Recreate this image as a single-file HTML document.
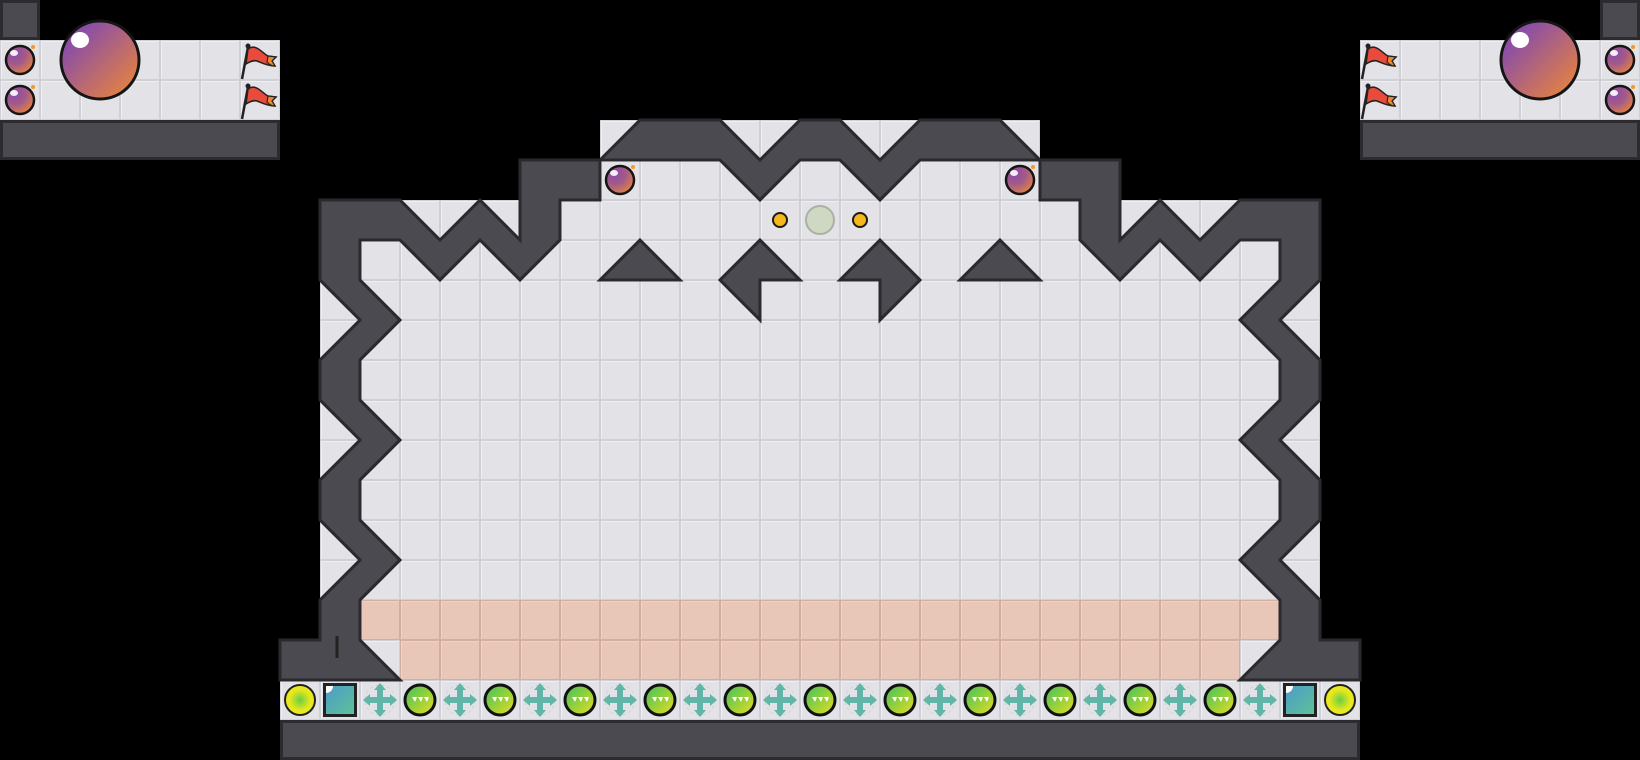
<!DOCTYPE html>
<html><head><meta charset="utf-8"><style>
html,body{margin:0;padding:0;background:#000;width:1640px;height:760px;overflow:hidden}
svg{display:block}
</style></head><body>
<svg width="1640" height="760" viewBox="0 0 1640 760" xmlns="http://www.w3.org/2000/svg">
<defs>
<pattern id="tile" width="40" height="40" patternUnits="userSpaceOnUse">
<rect width="40" height="40" fill="#cfcfd6"/>
<rect x="1" y="1" width="38" height="38" fill="#f0f0f3"/>
<rect x="2" y="2" width="37" height="37" fill="#e2e2e7"/>
</pattern>
<pattern id="ptile" width="40" height="40" patternUnits="userSpaceOnUse">
<rect width="40" height="40" fill="#d4ad9e"/>
<rect x="1" y="1" width="38" height="38" fill="#f1d3c6"/>
<rect x="2" y="2" width="37" height="37" fill="#e8c6b8"/>
</pattern>
<radialGradient id="bomb" cx="0.3" cy="0.25" r="0.9">
<stop offset="0" stop-color="#8a4aa8"/><stop offset="0.45" stop-color="#a35a8a"/><stop offset="1" stop-color="#f08a30"/>
</radialGradient>
<linearGradient id="big" x1="0" y1="0" x2="1" y2="1">
<stop offset="0.2" stop-color="#8a4ea6"/><stop offset="1" stop-color="#f28a30"/>
</linearGradient>
<linearGradient id="gb" x1="0" y1="0" x2="1" y2="1">
<stop offset="0" stop-color="#3fbf5a"/><stop offset="1" stop-color="#e8e020"/>
</linearGradient>
<radialGradient id="yb" cx="0.5" cy="0.5" r="0.5">
<stop offset="0" stop-color="#6ccc44"/><stop offset="0.7" stop-color="#e6e81e"/><stop offset="1" stop-color="#eaea1c"/>
</radialGradient>
<linearGradient id="sq" x1="0" y1="0" x2="1" y2="1">
<stop offset="0" stop-color="#4e9cc8"/><stop offset="1" stop-color="#5cc29a"/>
</linearGradient>
<g id="bombI">
<circle r="14" fill="url(#bomb)" stroke="#151515" stroke-width="2.5"/>
<ellipse cx="-6" cy="-7" rx="4" ry="3" fill="#fff" opacity="0.9"/>
<circle cx="13" cy="-13" r="2" fill="#f39a2a"/>
</g>
<g id="flagI">
<line x1="-16" y1="18" x2="-10" y2="-14" stroke="#222" stroke-width="2.5"/>
<circle cx="-10" cy="-15" r="2.5" fill="#222"/>
<path d="M-10,-12 C-2,-18 4,-8 10,-5 L18,-4 L14,0 L17,5 C10,5 4,2 -1,0 C-4,-1 -7,0 -12,3 Z" fill="#e84a3c" stroke="#222" stroke-width="1.5"/>
<path d="M10,-5 L18,-4 L14,0 L17,5 C13,5 11,3 9,1 Z" fill="#f0862c" stroke="#222" stroke-width="1.2"/>
</g>
<g id="crossI" fill="#5fb5a8">
<circle r="15" fill="none" stroke="#d0d0d6" stroke-width="1" stroke-dasharray="3 3"/>
<rect x="-3" y="-12" width="6" height="24"/>
<rect x="-12" y="-3" width="24" height="6"/>
<path d="M0,-17 L-6,-10 L6,-10Z M0,17 L-6,10 L6,10Z M-17,0 L-10,-6 L-10,6Z M17,0 L10,-6 L10,6Z"/>
</g>
<g id="greenI">
<circle r="15" fill="url(#gb)" stroke="#111" stroke-width="3"/>
<path d="M-8,-3 L-3,-3 L-5,2Z M-2,-3 L3,-3 L1,2Z M4,-3 L9,-3 L7,2Z" fill="#fff"/>
</g>
<g id="yellowI"><circle r="15" fill="url(#yb)" stroke="#222" stroke-width="2"/></g>
<g id="sqI">
<rect x="-17" y="-17" width="34" height="34" fill="#222"/>
<rect x="-14" y="-14" width="28" height="28" fill="url(#sq)"/>
<path d="M-14,-14 L-7,-14 A7,7 0 0 1 -14,-7Z" fill="#fff"/>
</g>
</defs>

<rect x="600" y="120" width="440" height="40" fill="url(#tile)"/>
<rect x="520" y="160" width="600" height="40" fill="url(#tile)"/>
<rect x="320" y="200" width="1000" height="480" fill="url(#tile)"/>
<rect x="280" y="680" width="1080" height="40" fill="url(#tile)"/>
<rect x="360" y="600" width="920" height="40" fill="url(#ptile)"/>
<rect x="400" y="640" width="840" height="40" fill="url(#ptile)"/>

<rect x="0" y="40" width="280" height="80" fill="url(#tile)"/>
<rect x="1360" y="40" width="280" height="80" fill="url(#tile)"/>
<g fill="#4a4a50" stroke="#2c2c30" stroke-width="3">
<rect x="1.5" y="121.5" width="277" height="37"/>
<rect x="1361.5" y="121.5" width="277" height="37"/>
<rect x="1.5" y="1.5" width="37" height="37"/>
<rect x="1601.5" y="1.5" width="37" height="37"/>
<rect x="281.5" y="721.5" width="1077" height="37"/>
</g>

<g fill="#4a4a50" stroke="#2a2a2e" stroke-width="3" stroke-linejoin="miter">
<polygon points="320,200 400,200 440,240 480,200 520,240 520,160 600,160 600,200 560,200 560,240 520,280 480,240 440,280 400,240 360,240 360,280 400,320 360,360 360,400 400,440 360,480 360,520 400,560 360,600 360,640 400,680 280,680 280,640 320,640 320,600 360,560 320,520 320,480 360,440 320,400 320,360 360,320 320,280"/>
<polygon points="1320,200 1240,200 1200,240 1160,200 1120,240 1120,160 1040,160 1040,200 1080,200 1080,240 1120,280 1160,240 1200,280 1240,240 1280,240 1280,280 1240,320 1280,360 1280,400 1240,440 1280,480 1280,520 1240,560 1280,600 1280,640 1240,680 1360,680 1360,640 1320,640 1320,600 1280,560 1320,520 1320,480 1280,440 1320,400 1320,360 1280,320 1320,280"/>
<polygon points="600,160 640,120 720,120 760,160 800,120 840,120 880,160 920,120 1000,120 1040,160 920,160 880,200 840,160 800,160 760,200 720,160"/>
<polygon points="640,240 680,280 600,280"/>
<polygon points="1000,240 1040,280 960,280"/>
<polygon points="760,240 800,280 760,280 760,320 720,280"/>
<polygon points="880,240 920,280 880,320 880,280 840,280"/>
</g>
<line x1="337" y1="636" x2="337" y2="658" stroke="#222" stroke-width="3"/>

<circle cx="780" cy="220" r="7" fill="#f5b81a" stroke="#1a1a1a" stroke-width="2"/>
<circle cx="860" cy="220" r="7" fill="#f5b81a" stroke="#1a1a1a" stroke-width="2"/>
<circle cx="820" cy="220" r="14" fill="#cfd8c2" stroke="#aab0a4" stroke-width="2"/>
<use href="#bombI" x="620" y="180"/>
<use href="#bombI" x="1020" y="180"/>

<use href="#bombI" x="20" y="60"/>
<use href="#bombI" x="20" y="100"/>
<circle cx="100" cy="60" r="39" fill="url(#big)" stroke="#151515" stroke-width="3"/>
<ellipse cx="80" cy="40" rx="9" ry="8" fill="#fff"/>
<use href="#flagI" x="258" y="61"/>
<use href="#flagI" x="258" y="101"/>
<use href="#bombI" x="1620" y="60"/>
<use href="#bombI" x="1620" y="100"/>
<circle cx="1540" cy="60" r="39" fill="url(#big)" stroke="#151515" stroke-width="3"/>
<ellipse cx="1520" cy="40" rx="9" ry="8" fill="#fff"/>
<use href="#flagI" x="1378" y="61"/>
<use href="#flagI" x="1378" y="101"/>

<use href="#yellowI" x="300" y="700"/>
<use href="#sqI" x="340" y="700"/>
<use href="#sqI" x="1300" y="700"/>
<use href="#yellowI" x="1340" y="700"/>
<use href="#crossI" x="380" y="700"/><use href="#greenI" x="420" y="700"/>
<use href="#crossI" x="460" y="700"/><use href="#greenI" x="500" y="700"/>
<use href="#crossI" x="540" y="700"/><use href="#greenI" x="580" y="700"/>
<use href="#crossI" x="620" y="700"/><use href="#greenI" x="660" y="700"/>
<use href="#crossI" x="700" y="700"/><use href="#greenI" x="740" y="700"/>
<use href="#crossI" x="780" y="700"/><use href="#greenI" x="820" y="700"/>
<use href="#crossI" x="860" y="700"/><use href="#greenI" x="900" y="700"/>
<use href="#crossI" x="940" y="700"/><use href="#greenI" x="980" y="700"/>
<use href="#crossI" x="1020" y="700"/><use href="#greenI" x="1060" y="700"/>
<use href="#crossI" x="1100" y="700"/><use href="#greenI" x="1140" y="700"/>
<use href="#crossI" x="1180" y="700"/><use href="#greenI" x="1220" y="700"/>
<use href="#crossI" x="1260" y="700"/>
</svg>
</body></html>
